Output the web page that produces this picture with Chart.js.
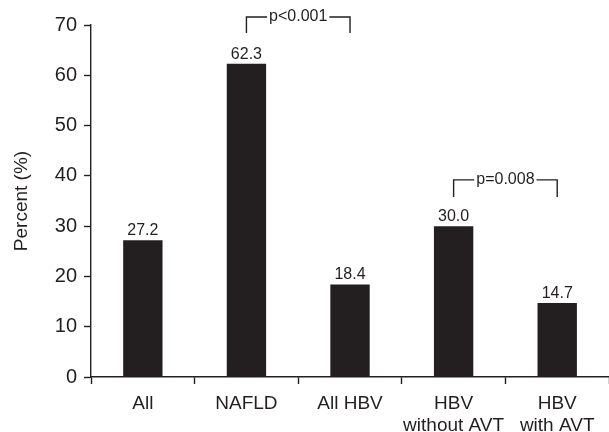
<!DOCTYPE html>
<html>
<head>
<meta charset="utf-8">
<script src="https://cdn.jsdelivr.net/npm/chart.js@4/dist/chart.umd.min.js"></script>
<style>
  html, body { margin: 0; padding: 0; background: #fff; }
  #wrap { width: 609px; height: 432px; }
</style>
</head>
<body>
<div id="wrap"><canvas id="chart"></canvas></div>
<script>
// Data
const categories = [['All'], ['NAFLD'], ['All HBV'], ['HBV', 'without AVT'], ['HBV', 'with AVT']];
const percents = [27.2, 62.3, 18.4, 30.0, 14.7];
const yTicks = [0, 10, 20, 30, 40, 50, 60, 70];

// Significance brackets: [from index, to index], label, top value, bottom value
const bracketPairs = [[1, 2], [3, 4]];
const bracketLabels = ['p<0.001', 'p=0.008'];
const bracketTops = [71.6, 39.2];
const bracketBottoms = [68.4, 35.8];

const ink = '#231f20';
const font = 'Liberation Sans, Arial, sans-serif';

// value labels on top of bars
const valueLabels = {
    id: 'valueLabels',
    afterDatasetsDraw(chart) {
        const ctx = chart.ctx;
        const meta = chart.getDatasetMeta(0);
        ctx.save();
        ctx.fillStyle = ink;
        ctx.font = '16px ' + font;
        ctx.textAlign = 'center';
        ctx.textBaseline = 'alphabetic';
        meta.data.forEach((bar, i) => {
            ctx.fillText(percents[i].toFixed(1), bar.x, bar.y - 5);
        });
        ctx.restore();
    }
};

// brackets with p-values
const brackets = {
    id: 'brackets',
    afterDatasetsDraw(chart) {
        const ctx = chart.ctx;
        const x = chart.scales.x, y = chart.scales.y;
        ctx.save();
        ctx.strokeStyle = ink;
        ctx.lineWidth = 1.4;
        ctx.fillStyle = ink;
        ctx.font = '16px ' + font;
        ctx.textAlign = 'center';
        ctx.textBaseline = 'middle';
        bracketPairs.forEach((pair, i) => {
            const x1 = x.getPixelForValue(pair[0]);
            const x2 = x.getPixelForValue(pair[1]);
            const yt = y.getPixelForValue(bracketTops[i]);
            const yb = y.getPixelForValue(bracketBottoms[i]);
            const mid = (x1 + x2) / 2;
            const half = ctx.measureText(bracketLabels[i]).width / 2 + 2;
            ctx.beginPath();
            ctx.moveTo(x1, yb);
            ctx.lineTo(x1, yt);
            ctx.lineTo(mid - half, yt);
            ctx.moveTo(mid + half, yt);
            ctx.lineTo(x2, yt);
            ctx.lineTo(x2, yb);
            ctx.stroke();
            ctx.fillText(bracketLabels[i], mid, yt);
        });
        ctx.restore();
    }
};

new Chart(document.getElementById('chart'), {
    type: 'bar',
    data: {
        labels: categories,
        datasets: [{
            data: percents,
            backgroundColor: ink,
            barPercentage: 0.76,
            categoryPercentage: 0.5
        }]
    },
    options: {
        responsive: true,
        maintainAspectRatio: false,
        animation: false,
        layout: { padding: { top: 25, right: 0, left: 10, bottom: 0 } },
        plugins: {
            legend: { display: false },
            tooltip: { enabled: false }
        },
        scales: {
            x: {
                afterFit(axis) { axis.height = 55; },
                grid: {
                    display: true,
                    drawOnChartArea: false,
                    drawTicks: true,
                    tickLength: 7,
                    tickWidth: 1.4,
                    color: ink,
                    offset: true
                },
                border: { display: true, color: ink, width: 1.4 },
                ticks: {
                    color: ink,
                    font: { family: font, size: 19, lineHeight: 1.15 },
                    padding: 9,
                    maxRotation: 0,
                    autoSkip: false
                }
            },
            y: {
                min: 0,
                max: 70,
                afterBuildTicks(axis) {
                    axis.ticks = yTicks.map(v => ({ value: v }));
                },
                grid: {
                    display: true,
                    drawOnChartArea: false,
                    drawTicks: true,
                    tickLength: 7,
                    tickWidth: 1.4,
                    color: ink
                },
                border: { display: true, color: ink, width: 1.4 },
                title: {
                    display: true,
                    text: 'Percent (%)',
                    color: ink,
                    font: { family: font, size: 19 },
                    padding: { top: 0, bottom: 15 }
                },
                ticks: {
                    color: ink,
                    font: { family: font, size: 20 },
                    padding: 7
                }
            }
        }
    },
    plugins: [valueLabels, brackets]
});
</script>
</body>
</html>
